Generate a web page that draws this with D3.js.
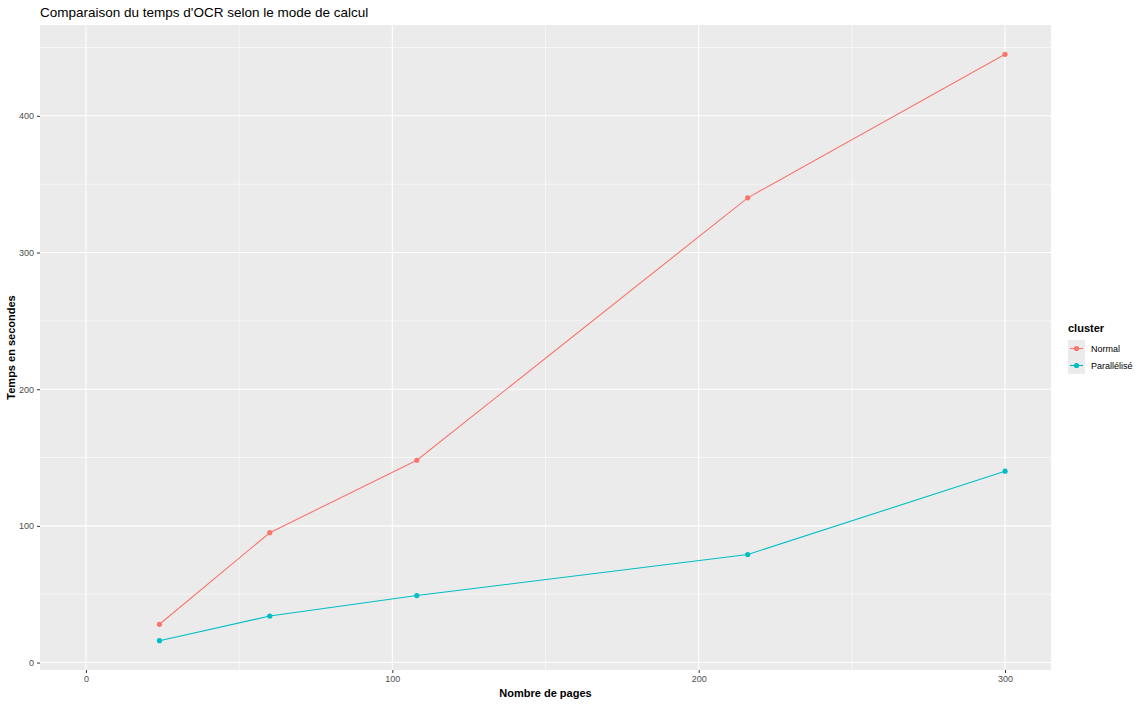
<!DOCTYPE html>
<html>
<head>
<meta charset="utf-8">
<script src="https://cdn.jsdelivr.net/npm/d3@7"></script>
<style>
  body { margin: 0; background: #fff; }
  text { font-family: "Liberation Sans", Arial, sans-serif; }
</style>
</head>
<body>
<svg id="chart"></svg>
<script>
// base settings
const width = 1142;
const height = 706;

// data
const pages = [24, 60, 108, 216, 300];
const normal = [28, 95, 148, 340, 445];
const parallel = [16, 34, 49, 79, 140];
const seriesNames = ['Normal', 'Parallélisé'];
const seriesColors = ['#F8766D', '#00BFC4'];
const xTicks = [0, 100, 200, 300];
const xMinor = [50, 150, 250];
const yTicks = [0, 100, 200, 300, 400];
const yMinor = [50, 150, 250, 350, 450];

const panel = { left: 40, right: 1051, top: 25, bottom: 670 };

const svg = d3.select('#chart').attr('width', width).attr('height', height);

const x = d3.scaleLinear().domain([-15, 315]).range([panel.left, panel.right]);
const y = d3.scaleLinear().domain([-5.45, 466.45]).range([panel.bottom, panel.top]);

// panel background
svg.append('rect')
    .attr('x', panel.left).attr('y', panel.top)
    .attr('width', panel.right - panel.left).attr('height', panel.bottom - panel.top)
    .attr('fill', '#EBEBEB');

// grid lines
const grid = svg.append('g');
grid.selectAll('.xminor').data(xMinor).enter().append('line')
    .attr('x1', d => x(d)).attr('x2', d => x(d))
    .attr('y1', panel.top).attr('y2', panel.bottom)
    .attr('stroke', '#fff').attr('stroke-width', 0.55);
grid.selectAll('.yminor').data(yMinor).enter().append('line')
    .attr('y1', d => y(d)).attr('y2', d => y(d))
    .attr('x1', panel.left).attr('x2', panel.right)
    .attr('stroke', '#fff').attr('stroke-width', 0.55);
grid.selectAll('.xmajor').data(xTicks).enter().append('line')
    .attr('x1', d => x(d)).attr('x2', d => x(d))
    .attr('y1', panel.top).attr('y2', panel.bottom)
    .attr('stroke', '#fff').attr('stroke-width', 1.1);
grid.selectAll('.ymajor').data(yTicks).enter().append('line')
    .attr('y1', d => y(d)).attr('y2', d => y(d))
    .attr('x1', panel.left).attr('x2', panel.right)
    .attr('stroke', '#fff').attr('stroke-width', 1.1);

// axes
const xAxis = svg.append('g')
    .attr('transform', `translate(0,${panel.bottom})`)
    .call(d3.axisBottom(x).tickValues(xTicks).tickSize(3).tickPadding(3));
const yAxis = svg.append('g')
    .attr('transform', `translate(${panel.left},0)`)
    .call(d3.axisLeft(y).tickValues(yTicks).tickSize(3).tickPadding(3));
[xAxis, yAxis].forEach(a => {
    a.select('.domain').remove();
    a.selectAll('.tick line').attr('stroke', '#333');
    a.selectAll('.tick text').attr('fill', '#4D4D4D').style('font-size', '9px');
});

// lines and points
const series = [normal, parallel];
const line = d3.line().x((d, i) => x(pages[i])).y(d => y(d));
series.forEach((vals, s) => {
    svg.append('path')
        .datum(vals)
        .attr('d', line)
        .attr('fill', 'none')
        .attr('stroke', seriesColors[s])
        .attr('stroke-width', 1.1);
    svg.selectAll('.pt' + s).data(vals).enter().append('circle')
        .attr('cx', (d, i) => x(pages[i]))
        .attr('cy', d => y(d))
        .attr('r', 2.6)
        .attr('fill', seriesColors[s]);
});

// titles
svg.append('text')
    .attr('x', panel.left).attr('y', 17)
    .style('font-size', '13.5px')
    .text("Comparaison du temps d'OCR selon le mode de calcul");
svg.append('text')
    .attr('x', (panel.left + panel.right) / 2).attr('y', 697)
    .attr('text-anchor', 'middle')
    .style('font-size', '11px').style('font-weight', 'bold')
    .text('Nombre de pages');
svg.append('text')
    .attr('transform', `translate(15,${(panel.top + panel.bottom) / 2}) rotate(-90)`)
    .attr('text-anchor', 'middle')
    .style('font-size', '11px').style('font-weight', 'bold')
    .text('Temps en secondes');

// legend
const legend = svg.append('g').attr('transform', 'translate(1068,320)');
legend.append('text')
    .attr('x', 0).attr('y', 12)
    .style('font-size', '11px').style('font-weight', 'bold')
    .text('cluster');
seriesNames.forEach((name, i) => {
    const g = legend.append('g').attr('transform', `translate(0,${20 + i * 17})`);
    g.append('rect').attr('width', 17).attr('height', 17).attr('fill', '#EBEBEB');
    g.append('line').attr('x1', 2).attr('x2', 15).attr('y1', 8.5).attr('y2', 8.5)
        .attr('stroke', seriesColors[i]).attr('stroke-width', 1.1);
    g.append('circle').attr('cx', 8.5).attr('cy', 8.5).attr('r', 2.6).attr('fill', seriesColors[i]);
    g.append('text').attr('x', 23).attr('y', 12)
        .style('font-size', '9px')
        .text(name);
});
</script>
</body>
</html>
